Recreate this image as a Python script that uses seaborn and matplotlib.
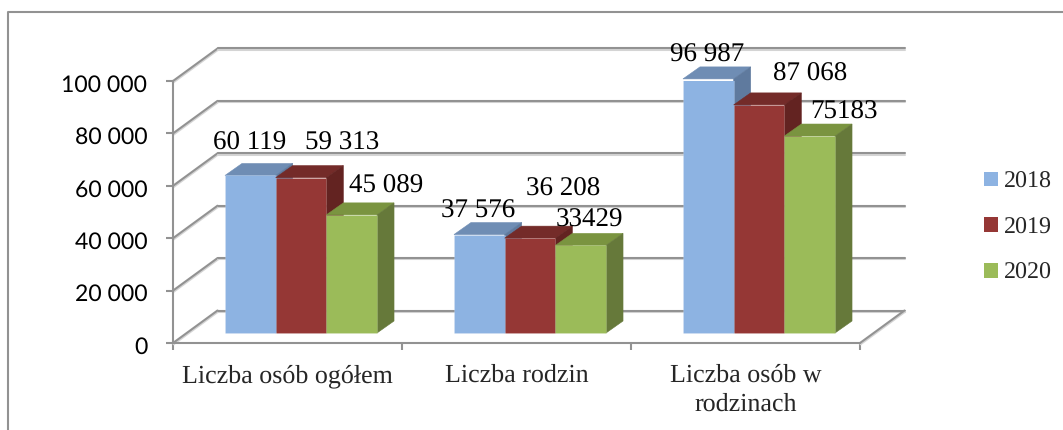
import matplotlib
matplotlib.use("Agg")
import matplotlib.pyplot as plt
import matplotlib.patheffects as pe
import pandas as pd
import seaborn as sns
from matplotlib.lines import Line2D
from matplotlib.patches import Polygon
from matplotlib.transforms import ScaledTranslation

kategorie = ["Liczba osób ogółem", "Liczba rodzin", "Liczba osób w\nrodzinach"]
lata = ["2018", "2019", "2020"]
v2018 = [60119, 37576, 96987]
v2019 = [59313, 36208, 87068]
v2020 = [45089, 33429, 75183]
etykiety2018 = ["60 119", "37 576", "96 987"]
etykiety2019 = ["59 313", "36 208", "87 068"]
etykiety2020 = ["45 089", "33429", "75183"]

kolory = {"2018": "#8DB3E2", "2019": "#953735", "2020": "#9BBB59"}
gora = {"2018": "#6F8DB4", "2019": "#742B29", "2020": "#7A9440"}
bok = {"2018": "#5F7A9E", "2019": "#632321", "2020": "#66793A"}
szary = "#929292"

# label shift from the top centre of each bar, px
przesuniecia = {
    "2018": [(-1, 32), (-1, 23), (-1, 24)],
    "2019": [(41, 34), (33, 49), (51, 31)],
    "2020": [(34, 29), (9, 25), (34, 24)],
}

sns.set_style("white")
plt.rcParams["font.family"] = ["Liberation Serif", "DejaVu Serif"]
plt.rcParams["text.hinting"] = "none"
plt.rcParams["text.hinting_factor"] = 1

W, H = 1063, 430
fig = plt.figure(figsize=(W / 100, H / 100), dpi=100)
ax = fig.add_axes([173 / W, (H - 343) / H, 687 / W, 262 / H])

df = pd.DataFrame({
    "kategoria": kategorie * 3,
    "rok": [r for r in lata for _ in kategorie],
    "liczba": v2018 + v2019 + v2020,
})
sns.barplot(data=df, x="kategoria", y="liczba", hue="rok", palette=kolory, width=0.664,
            gap=0, saturation=1, errorbar=None, linewidth=0, ax=ax, zorder=3)

ax.set_xlim(-0.5, 2.5)
ax.set_ylim(0, 100000)
px_x = 3 / 687
px_y = 100000 / 262

# depth of the fake 3d box and of the bars standing inside it
sciana_x, sciana_y = 44.5 * px_x, 32.5 * px_y
start_x, start_y = 13.5 * px_x, 10 * px_y
glab_x, glab_y = 17 * px_x, 12 * px_y

cien = [pe.SimpleLineShadow(offset=(0.4, -0.9), shadow_color="#d4d4d4", alpha=1), pe.Normal()]
yticks = list(range(0, 100001, 20000))
for t in yticks:
    ax.plot([-0.5, -0.5 + sciana_x], [t, t + sciana_y], color=szary, lw=1.5, clip_on=False, zorder=1,
            path_effects=cien)
    ax.plot([-0.5 + sciana_x, 2.5 + sciana_x], [t + sciana_y, t + sciana_y], color=szary, lw=1.5,
            clip_on=False, zorder=1, path_effects=cien)
ax.plot([2.5, 2.5 + sciana_x], [0, sciana_y], color=szary, lw=1.5, clip_on=False, zorder=1,
        path_effects=cien)

etykiety = {"2018": etykiety2018, "2019": etykiety2019, "2020": etykiety2020}
for nr, rok in enumerate(lata):
    for i, bar in enumerate(ax.containers[nr]):
        bar.set_x(bar.get_x() + start_x)
        bar.set_y(start_y)
        bar.set_zorder(3 + nr + 0.5)
        bar.set_edgecolor((1, 1, 1, 0.15))
        bar.set_linewidth(0.6)
        x0, x1 = bar.get_x(), bar.get_x() + bar.get_width()
        y0, y1 = start_y, start_y + bar.get_height()
        ax.add_patch(Polygon([(x0, y1), (x1, y1), (x1 + glab_x, y1 + glab_y), (x0 + glab_x, y1 + glab_y)],
                             fc=gora[rok], ec=gora[rok], lw=0.4, clip_on=False, zorder=3 + nr))
        ax.add_patch(Polygon([(x1, y0), (x1 + glab_x, y0 + glab_y), (x1 + glab_x, y1 + glab_y), (x1, y1)],
                             fc=bok[rok], ec=bok[rok], lw=0.4, clip_on=False, zorder=3 + nr))
        ax.annotate(etykiety[rok][i], ((x0 + x1) / 2, y1), xytext=przesuniecia[rok][i],
                    textcoords="offset pixels", ha="center", va="center", fontsize=19.3,
                    color="black", annotation_clip=False, zorder=10)

ax.set_xlabel("")
ax.set_ylabel("")
ax.set_yticks(yticks)
ax.set_yticklabels([f"{t:,}".replace(",", " ") for t in yticks], fontfamily="Lato", fontsize=16.3,
                   color="black")
ax.set_xticks(range(3))
ax.set_xticklabels(kategorie, fontsize=18.6, linespacing=1.28)
ax.set_xticks([-0.5, 0.5, 1.5, 2.5], minor=True)
ax.tick_params(axis="x", which="major", length=0, pad=15, bottom=False)
ax.tick_params(axis="x", which="minor", length=5, width=1.5, color=szary, bottom=True)
ax.tick_params(axis="y", length=5, width=1.5, color=szary, pad=13.5, left=True)
for lab in ax.get_yticklabels():
    lab.set_transform(lab.get_transform() + ScaledTranslation(0, -1.5 / 72, fig.dpi_scale_trans))

sns.despine(ax=ax)
for s in ["left", "bottom"]:
    ax.spines[s].set_color(szary)
    ax.spines[s].set_linewidth(1.5)

leg = ax.legend(loc="center left", bbox_to_anchor=(984 / W, (H - 227.5) / H),
                bbox_transform=fig.transFigure, frameon=False, fontsize=17.3, borderpad=0,
                borderaxespad=0, labelspacing=1.0, handlelength=0.58, handleheight=0.58,
                handletextpad=0.25)

# outer chart frame, only top and left are visible in the crop
fig.add_artist(Line2D([8 / W, 8 / W, 1], [0, (H - 11.5) / H, (H - 11.5) / H], color=szary, lw=1.5))

fig.savefig("out.png", dpi=100, facecolor="white")
